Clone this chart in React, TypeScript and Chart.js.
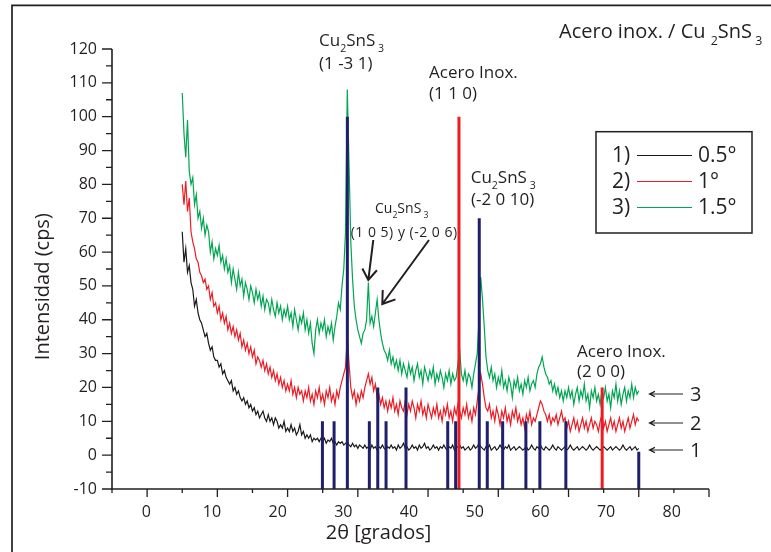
import React, { useEffect, useRef } from 'react';
import { Chart, registerables } from 'chart.js';

Chart.register(...registerables);

// 2θ grid of the measured patterns: 5° .. 70°, step 0.25°
const X_START = 5;
const X_STEP = 0.25;

// 1) 0.5°  (black)
const SERIES_1 = [
  66, 57, 61, 54, 56, 51, 49, 44, 46, 42, 40, 39, 37, 35, 36, 33, 31, 32, 29, 28,
  28, 26, 27, 24, 25, 23, 22, 21, 22, 19, 20, 18, 19, 17, 16, 17, 15, 16, 14, 15,
  13, 14, 12, 13, 11, 12, 13, 11, 10, 12, 10, 11, 9, 11, 10, 8, 9, 8, 10, 7,
  8, 7, 9, 7, 8, 6, 7, 9, 6, 7, 5, 6, 5, 6, 4, 5, 4.5, 5, 4, 5,
  4, 5, 3.5, 4.5, 4, 5, 3.5, 4, 3, 4, 3.5, 4, 3, 3.5, 4, 3, 2.5, 3.5, 2.5, 3,
  2, 3, 2.5, 2, 3, 2, 2.5, 1.5, 3, 2, 2.5, 1.5, 2.5, 2, 3, 2, 1.5, 2.5, 2, 3,
  2, 2.5, 1.5, 3, 2, 2.5, 3.5, 2, 2.5, 1.5, 2, 3, 2, 2.5, 1.5, 3, 2, 2.5, 3.5, 2,
  2.5, 1.5, 2, 3, 2, 2.5, 1.5, 2.5, 2, 3, 2, 1.5, 2.5, 2, 3, 1.5, 2, 2.5, 3, 2,
  2.5, 1.5, 2, 2.5, 1.5, 2, 3, 2, 2.5, 3.5, 2.5, 2, 1.5, 2.5, 2, 3, 1.5, 2, 2.5, 1.5,
  2, 3, 2, 1.5, 2.5, 2, 3, 1.5, 2, 2.5, 1.5, 2, 2.5, 2, 1.5, 2, 2.5, 1.5, 2, 3,
  2, 1.5, 2.5, 2, 3, 2, 1.5, 2.5, 2, 1.5, 2, 3, 2, 1.5, 2.5, 2, 1.5, 2, 2.5, 1.5,
  2, 3, 2, 1.5, 2, 2.5, 1.5, 2, 2.5, 2, 1.5, 2, 3, 2, 1.5, 2, 2.5, 2, 1.5, 2,
  2.5, 2, 1.5, 2, 2.5, 1.5, 2, 2.5, 2, 1.5, 2, 3, 2, 1.5, 2, 2.5, 1.5, 2, 2.5, 1.5, 2,
];

// 2) 1°  (red)
const SERIES_2 = [
  80, 74, 81, 72, 76, 66, 63, 61, 58, 57, 54, 53, 51, 52, 49, 50, 46, 48, 44, 45,
  42, 44, 40, 42, 39, 41, 37, 39, 36, 38, 35, 37, 34, 36, 32, 34, 31, 33, 30, 32,
  29, 31, 27, 29, 28, 26, 28, 25, 27, 24, 26, 23, 25, 22, 24, 21, 23, 20, 22, 19,
  21, 19, 22, 18, 20, 17, 20, 18, 19, 16, 19, 17, 20, 16, 18, 15, 19, 17, 20, 16,
  18, 15, 19, 17, 20, 16, 18, 15, 19, 17, 20, 22, 24, 26, 35, 27, 20, 17, 19, 15,
  18, 16, 19, 17, 20, 22, 24, 21, 23, 19, 21, 17, 18, 15, 17, 14, 16, 13, 16, 14,
  17, 13, 15, 12, 16, 14, 13, 16, 12, 15, 13, 16, 14, 11, 15, 13, 16, 12, 14, 11,
  15, 13, 11, 14, 12, 15, 11, 13, 10, 14, 12, 15, 11, 13, 10, 14, 12, 15, 13, 11,
  14, 12, 15, 11, 13, 10, 14, 12, 16, 20, 24, 21, 17, 14, 13, 15, 11, 13, 10, 14,
  12, 9, 13, 11, 14, 10, 12, 9, 13, 11, 14, 10, 12, 9, 11, 8, 12, 10, 13, 9,
  11, 10, 12, 14, 16, 15, 13, 12, 10, 12, 9, 11, 10, 12, 9, 11, 13, 10, 11, 8,
  10, 7, 9, 11, 8, 10, 7, 9, 11, 8, 10, 7, 9, 11, 8, 10, 9, 7, 10, 12,
  8, 10, 7, 9, 11, 8, 10, 7, 9, 11, 8, 10, 7, 9, 11, 8, 10, 12, 9, 11, 10,
];

// 3) 1.5°  (green)
const SERIES_3 = [
  107, 95, 88, 99, 84, 80, 82, 74, 77, 70, 72, 67, 70, 65, 68, 66, 60, 63, 58, 61,
  59, 62, 57, 59, 55, 58, 54, 56, 51, 55, 52, 49, 54, 50, 52, 47, 51, 49, 46, 50,
  48, 45, 49, 46, 48, 44, 47, 43, 46, 45, 42, 46, 43, 41, 45, 42, 44, 40, 43, 41,
  44, 40, 42, 38, 43, 40, 37, 41, 39, 42, 37, 40, 36, 39, 33, 30, 37, 40, 36, 39,
  37, 40, 35, 38, 36, 39, 34, 38, 41, 45, 43, 50, 55, 66, 108, 86, 63, 52, 44, 40,
  37, 35, 33, 36, 37, 40, 51, 39, 41, 38, 42, 46, 40, 36, 33, 31, 30, 28, 31, 27,
  29, 26, 28, 25, 28, 24, 27, 25, 23, 27, 24, 26, 22, 25, 27, 23, 25, 21, 26, 24,
  22, 25, 23, 26, 21, 24, 22, 25, 23, 20, 24, 22, 25, 21, 24, 22, 23, 27, 31, 24,
  22, 25, 21, 24, 23, 20, 24, 27, 30, 40, 52.6, 46, 38, 29, 25, 23, 26, 22, 24, 20,
  23, 21, 25, 20, 22, 19, 23, 21, 17, 22, 20, 23, 19, 21, 18, 22, 20, 23, 19, 21,
  22, 20, 24, 26, 27, 29, 26, 24, 23, 21, 22, 19, 21, 18, 20, 17, 19, 16, 19, 17,
  20, 17, 19, 15, 18, 20, 16, 19, 17, 21, 16, 18, 14, 19, 17, 20, 16, 18, 15, 19,
  17, 20, 16, 18, 14, 19, 17, 21, 16, 19, 15, 18, 20, 16, 19, 17, 21, 17, 20, 18, 19,
];

// Reference patterns (sticks): Cu2SnS3 (blue) and stainless steel (red)
const CTS_POS = [24.96, 26.62, 28.51, 31.64, 32.84, 34.02, 36.86, 42.8, 43.93, 47.29, 48.43, 50.62, 53.93, 55.92, 59.62, 70.0];
const CTS_H = [10, 10, 100, 10, 20, 10, 20, 10, 10, 70, 10, 10, 10, 10, 10, 1];
const FE_POS = [44.4, 64.79];
const FE_H = [100, 20];

const X_TICK_LABELS = [0, 10, 20, 30, 40, 50, 60, 70, 80];
const Y_MIN = -10;
const Y_MAX = 120;
const LEGEND_NUM = ['1)', '2)', '3)'];
const LEGEND_TXT = ['0.5°', '1°', '1.5°'];
const SIDE_NUM = ['1', '2', '3'];

const COL_BLACK = '#1a1a1a';
const COL_RED = '#ec1c24';
const COL_GREEN = '#00a651';
const COL_BLUE = '#1f1f6b';
const INK = '#231f20';
const FONT = '"Open Sans", "DejaVu Sans", sans-serif';

type Part = [string, boolean];

function rich(ctx: CanvasRenderingContext2D, x: number, y: number, parts: Part[], size: number, subOff: number) {
  let cx = x;
  for (const [t, sub] of parts) {
    const s = sub ? size * 0.62 : size;
    ctx.font = `${s}px ${FONT}`;
    ctx.fillText(t, cx, sub ? y + subOff : y);
    cx += ctx.measureText(t).width;
  }
}

function arrow(ctx: CanvasRenderingContext2D, x1: number, y1: number, x2: number, y2: number, head: number, ang: number) {
  ctx.beginPath();
  ctx.moveTo(x1, y1);
  ctx.lineTo(x2, y2);
  const a = Math.atan2(y1 - y2, x1 - x2);
  ctx.moveTo(x2 + head * Math.cos(a + ang), y2 + head * Math.sin(a + ang));
  ctx.lineTo(x2, y2);
  ctx.lineTo(x2 + head * Math.cos(a - ang), y2 + head * Math.sin(a - ang));
  ctx.stroke();
}

const decoPlugin = {
  id: 'deco',
  afterDraw(chart: any) {
    const ctx: CanvasRenderingContext2D = chart.ctx;
    const { left, right, top, bottom } = chart.chartArea;
    const xs = chart.scales.x;
    const ys = chart.scales.y;
    ctx.save();
    ctx.strokeStyle = INK;
    ctx.fillStyle = INK;

    // outer frame
    ctx.lineWidth = 1.7;
    ctx.beginPath();
    ctx.moveTo(12, 560);
    ctx.lineTo(12, 5.3);
    ctx.lineTo(780, 5.3);
    ctx.stroke();

    // axes
    ctx.lineWidth = 1.6;
    ctx.beginPath();
    ctx.moveTo(left, top);
    ctx.lineTo(left, bottom);
    ctx.lineTo(right, bottom);
    ctx.stroke();

    ctx.lineWidth = 1.3;
    ctx.beginPath();
    for (let v = Y_MIN; v <= Y_MAX; v += 5) {
      const py = ys.getPixelForValue(v);
      const len = v % 10 === 0 ? 10 : 6;
      ctx.moveTo(left - len, py);
      ctx.lineTo(left, py);
    }
    for (let v = -5; v <= 80; v += 5) {
      const px = xs.getPixelForValue(v);
      const len = v % 10 === 0 ? 8 : 4;
      ctx.moveTo(px, bottom);
      ctx.lineTo(px, bottom + len);
    }
    ctx.stroke();

    // axis titles
    ctx.textAlign = 'center';
    ctx.textBaseline = 'alphabetic';
    ctx.font = `20px ${FONT}`;
    ctx.fillText('2θ [grados]', 378.5, 539);
    ctx.save();
    ctx.translate(49.3, 286.7);
    ctx.rotate(-Math.PI / 2);
    ctx.fillText('Intensidad (cps)', 0, 0);
    ctx.restore();

    // title
    ctx.textAlign = 'left';
    rich(ctx, 559, 37.7, [['Acero inox. / Cu ', false], ['2', true], ['SnS', false], [' 3', true]], 20, 7);

    // annotations
    rich(ctx, 319, 45.7, [['Cu', false], ['2', true], ['SnS', false], [' 3', true]], 17, 6);
    ctx.font = `17px ${FONT}`;
    ctx.fillText('(1 -3 1)', 319, 69);

    ctx.font = `17px ${FONT}`;
    ctx.fillText('Acero Inox.', 429, 78.3);
    ctx.fillText('(1 1 0)', 429, 99);

    rich(ctx, 470.7, 183.3, [['Cu', false], ['2', true], ['SnS', false], [' 3', true]], 17, 6);
    ctx.font = `17px ${FONT}`;
    ctx.fillText('(-2 0 10)', 471, 205);

    rich(ctx, 375, 213.3, [['Cu', false], ['2', true], ['SnS', false], [' 3', true]], 14, 5);
    ctx.font = `14px ${FONT}`;
    (ctx as any).letterSpacing = '0.5px';
    ctx.fillText('(1 0 5) y (-2 0 6)', 350.7, 236.7);
    (ctx as any).letterSpacing = '0px';

    ctx.font = `17px ${FONT}`;
    ctx.fillText('Acero Inox.', 577, 356.7);
    ctx.fillText('(2 0 0)', 577, 376.7);

    // pointer arrows
    ctx.lineWidth = 2;
    arrow(ctx, 373.3, 240, 368.3, 280, 13, 0.6);
    arrow(ctx, 429, 240, 382.3, 304, 14, 0.6);

    // side labels 1,2,3
    ctx.lineWidth = 1.2;
    const sideY = [450, 423, 394];
    ctx.font = `20px ${FONT}`;
    ctx.textBaseline = 'middle';
    for (let i = 0; i < 3; i++) {
      arrow(ctx, 683, sideY[i], 649.5, sideY[i], 6, 0.45);
      ctx.fillText(SIDE_NUM[i], 690, sideY[i] + 1);
    }

    // legend box
    ctx.lineWidth = 1.5;
    ctx.strokeRect(596, 131.7, 156, 101.3);
    const rows = [155.5, 181.5, 207.5];
    const cols = [COL_BLACK, COL_RED, COL_GREEN];
    ctx.font = `21px ${FONT}`;
    for (let i = 0; i < 3; i++) {
      ctx.fillStyle = INK;
      ctx.fillText(LEGEND_NUM[i], 612, rows[i] + 1);
      ctx.fillText(LEGEND_TXT[i], 698, rows[i] + 1);
      ctx.strokeStyle = cols[i];
      ctx.lineWidth = 1.2;
      ctx.beginPath();
      ctx.moveTo(637, rows[i]);
      ctx.lineTo(692, rows[i]);
      ctx.stroke();
    }
    ctx.restore();
  },
};

const toPts = (arr: number[]) => arr.map((y, i) => ({ x: X_START + i * X_STEP, y }));
const sticks = (pos: number[], h: number[]) =>
  pos.flatMap((x, i) => [{ x, y: Y_MIN }, { x, y: h[i] }, { x, y: null as any }]);

export default function App() {
  const ref = useRef<HTMLCanvasElement>(null);
  useEffect(() => {
    const tickFont = { family: FONT, size: 16 };
    const chart = new Chart(ref.current as HTMLCanvasElement, {
      type: 'line',
      data: {
        datasets: [
          { label: 'Cu2SnS3', data: sticks(CTS_POS, CTS_H), borderColor: COL_BLUE, borderWidth: 3, pointRadius: 0, spanGaps: false, order: 0, borderCapStyle: 'butt' } as any,
          { label: 'Acero inox.', data: sticks(FE_POS, FE_H), borderColor: COL_RED, borderWidth: 3, pointRadius: 0, spanGaps: false, order: 0, borderCapStyle: 'butt' } as any,
          { label: '1) 0.5°', data: toPts(SERIES_1), borderColor: COL_BLACK, borderWidth: 1.2, pointRadius: 0, order: 3 },
          { label: '2) 1°', data: toPts(SERIES_2), borderColor: COL_RED, borderWidth: 1.2, pointRadius: 0, order: 2 },
          { label: '3) 1.5°', data: toPts(SERIES_3), borderColor: COL_GREEN, borderWidth: 1.2, pointRadius: 0, order: 1 },
        ],
      },
      options: {
        animation: false,
        responsive: false,
        devicePixelRatio: 1,
        layout: { padding: { top: 49, left: 0, right: 62, bottom: 0 } },
        plugins: { legend: { display: false }, tooltip: { enabled: false } },
        elements: { line: { tension: 0 } },
        scales: {
          x: { type: 'linear', min: -5, max: 80, display: false },
          x2: {
            type: 'linear',
            position: 'bottom',
            min: -5.22,
            max: 85.67,
            grid: { display: false, drawTicks: false },
            border: { display: false },
            ticks: { font: tickFont, color: INK, padding: 14, autoSkip: false, maxRotation: 0 },
            afterBuildTicks: (s: any) => { s.ticks = X_TICK_LABELS.map((v) => ({ value: v })); },
            afterFit: (s: any) => { s.height = 63; },
          },
          y: {
            min: Y_MIN,
            max: Y_MAX,
            ticks: { stepSize: 10, font: tickFont, color: INK, padding: 15 },
            grid: { display: false, drawTicks: false },
            border: { display: false },
            afterFit: (s: any) => { s.width = 112; },
          },
        },
      } as any,
      plugins: [decoPlugin],
    });
    return () => chart.destroy();
  }, []);
  return (
    <div style={{ position: 'absolute', left: 0, top: 0, width: 771, height: 552, background: '#fff' }}>
      <canvas ref={ref} width={771} height={552} style={{ width: 771, height: 552, display: 'block' }} />
    </div>
  );
}
